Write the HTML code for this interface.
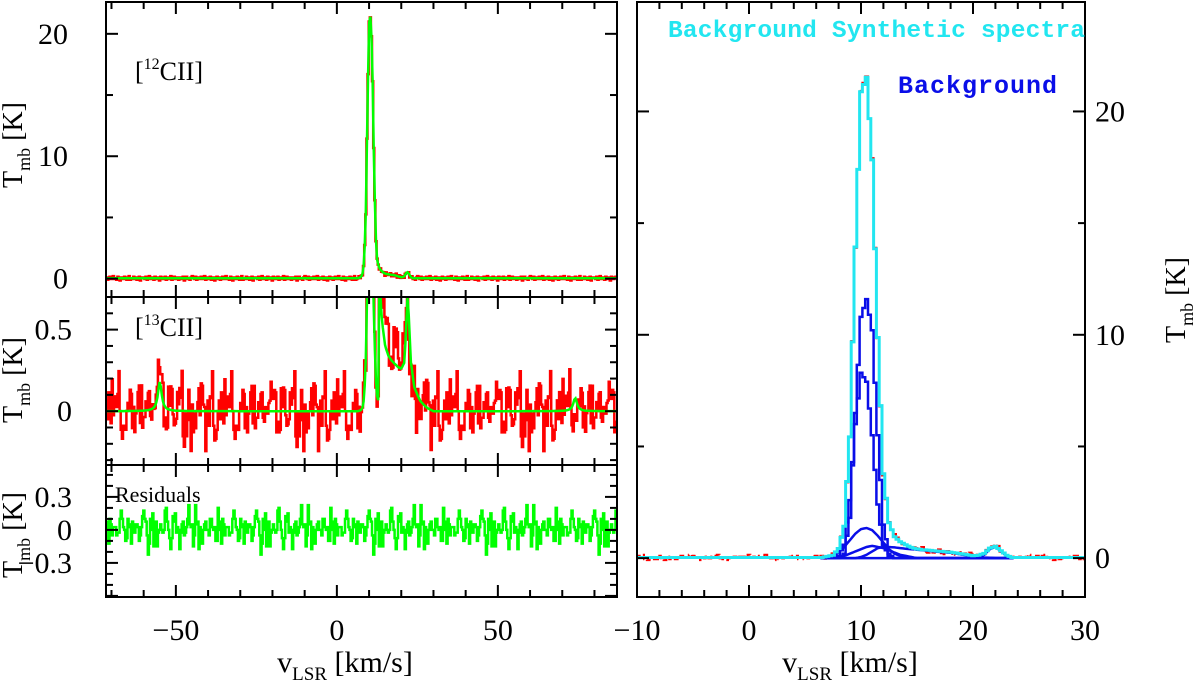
<!DOCTYPE html>
<html><head><meta charset="utf-8">
<style>
body{margin:0;background:#fff;}
svg{display:block;font-family:"Liberation Serif",serif;}
</style></head>
<body>
<svg id="c" width="1200" height="682" viewBox="0 0 1200 682"></svg>
<script>
// ---------- data ----------
const compStart = 6.5, compStep = 0.5;
const comp1 = [0,0,0,0,0.2,1.8,6.5,10.8,11.6,10.2,5.5,1.5,0.2,0,0,0,0,0,0,0,0,0,0,0,0,0,0,0,0,0,0,0,0,0,0];
const comp2 = [0,0,0,0.1,0.6,2.6,6.0,8.3,7.9,5.5,2.4,0.6,0.1,0,0,0,0,0,0,0,0,0,0,0,0,0,0,0,0,0,0,0,0,0,0];
const comp3 = [0,0.05,0.1,0.25,0.5,0.8,1.1,1.3,1.35,1.25,1.0,0.7,0.4,0.2,0.1,0.05,0,0,0,0,0,0,0,0,0,0,0,0,0,0,0,0,0,0,0];
const comp4 = [0,0,0,0.05,0.1,0.2,0.3,0.4,0.5,0.55,0.5,0.45,0.35,0.25,0.15,0.1,0.05,0,0,0,0,0,0,0,0,0,0,0,0,0,0,0,0,0,0];
const comp5 = [0,0,0,0,0,0,0,0.05,0.15,0.3,0.45,0.5,0.5,0.48,0.45,0.42,0.4,0.38,0.35,0.33,0.3,0.28,0.26,0.24,0.2,0.16,0.12,0.08,0.05,0.03,0.02,0,0,0,0];
const comp6 = [0,0,0,0,0,0,0,0,0,0,0,0,0,0,0,0,0,0,0,0,0,0,0,0,0,0,0,0,0.05,0.15,0.4,0.5,0.3,0.1,0];
const noise = [1,-2,0,2,-1,1,3,-1,0,-2,2,1,-3,0,1,-1,2,0,-2,1,3,-2,-1,0,2,-1,1,-2,0,2,-3,1,0,1,-1,2,-2,0,3,-1,1,0,-2,2,-1,0,1,-3,2,0,-1,1,2,-2,0,1,-1,3,-2,0,2,-1,0,1,-2,1,0,-1,2,-3,1,2,-1,0,-2,1,3,0,-1,2,-2,1,0,-1,2,-1,0,3,-2,1,-1,0,2,-2,1,0,-3,1,2,-1];
const c13TailStart = 13;
const c13Tail = [0.9,0.55,0.4,0.34,0.31,0.29,0.27,0.26,0.3,0.72,0.3,0.15,0.1,0.06,0.04,0.02,0.01,0];
const xTicksLeft = [-50,0,50];
const yTicksTop = [0,10,20];
const yTicksMid = [0,0.5];
const yTicksBot = [-0.3,0,0.3];
const xTicksRight = [-10,0,10,20,30];
const yTicksRight = [0,10,20];
const c13Extra = [[-55,0.18],[74,0.08]];

// ---------- helpers ----------
const svg = document.getElementById('c');
const NS = 'http://www.w3.org/2000/svg';
function mk(tag, attrs, parent){const e=document.createElementNS(NS,tag);for(const k in attrs)e.setAttribute(k,attrs[k]);(parent||svg).appendChild(e);return e;}
function lin(d0,d1,r0,r1){return v=>r0+(v-d0)*(r1-r0)/(d1-d0);}
function interp(c,start,step,v){
  const i=(v-start)/step, i0=Math.floor(i), f=i-i0;
  const a=(i0>=0&&i0<c.length)?c[i0]:0, b=(i0+1>=0&&i0+1<c.length)?c[i0+1]:0;
  return a*(1-f)+b*f;
}
function total(v){
  let s=0.03;
  for(const c of [comp1,comp2,comp3,comp4,comp5,comp6]) s+=interp(c,compStart,compStep,v);
  return s;
}
function stepPath(xs, ys, X, Y){
  let d='';
  for(let i=0;i<xs.length;i++){
    const h=(i+1<xs.length?xs[i+1]-xs[i]:xs[i]-xs[i-1])/2;
    const y=Y(ys[i]);
    d+=(i?'L':'M')+X(xs[i]-h).toFixed(1)+','+y.toFixed(1)+'L'+X(xs[i]+h).toFixed(1)+','+y.toFixed(1);
  }
  return d;
}
function linePath(xs, ys, X, Y){return xs.map((x,i)=>(i?'L':'M')+X(x).toFixed(1)+','+Y(ys[i]).toFixed(1)).join('');}
function clip(id,x,y,w,h){const cp=mk('clipPath',{id:id});mk('rect',{x:x,y:y,width:w,height:h},cp);}
function ticks(g,X,Y,x0,x1,y0,y1,xmaj,xmin,ymaj,ymin){
  for(let v=Math.ceil(x0/xmin)*xmin; v<=x1+1e-9; v+=xmin){
    const maj=Math.abs(v/xmaj-Math.round(v/xmaj))<1e-6, L=maj?12:7, px=X(v);
    mk('line',{x1:px,x2:px,y1:Y(y0),y2:Y(y0)-L,stroke:'#000','stroke-width':2},g);
    mk('line',{x1:px,x2:px,y1:Y(y1),y2:Y(y1)+L,stroke:'#000','stroke-width':2},g);
  }
  for(let v=Math.ceil(y0/ymin)*ymin; v<=y1+1e-9; v+=ymin){
    const maj=Math.abs(v/ymaj-Math.round(v/ymaj))<1e-6, L=maj?12:7, py=Y(v);
    mk('line',{x1:X(x0),x2:X(x0)+L,y1:py,y2:py,stroke:'#000','stroke-width':2},g);
    mk('line',{x1:X(x1),x2:X(x1)-L,y1:py,y2:py,stroke:'#000','stroke-width':2},g);
  }
}
function fmt(v){return v<0?'\u2212'+(-v):String(v);}

// ---------- left panels ----------
const LX = lin(-71.7,87,106,617);
const vL=[]; for(let v=-71.5; v<=87; v+=0.35) vL.push(v);

const topY = lin(-1.5,22.6,297,2);
clip('ct',106,2,511,295);
const gTop = mk('g',{});
const m12 = vL.map(v=>total(v));
const d12 = vL.map((v,i)=>m12[i]+noise[i%noise.length]*0.06);
mk('path',{d:stepPath(vL,d12,LX,topY),fill:'none',stroke:'#f00','stroke-width':2.5,'clip-path':'url(#ct)',},gTop);
mk('path',{d:linePath(vL,m12,LX,topY),fill:'none',stroke:'#0f0','stroke-width':2.5,'clip-path':'url(#ct)',},gTop);
mk('rect',{x:106,y:2,width:511,height:295,fill:'none',stroke:'#000','stroke-width':2},gTop);
ticks(gTop,LX,topY,-71.7,87,-1.5,22.6,50,10,10,5);
yTicksTop.forEach(t=>{const e=mk('text',{x:68,y:topY(t)+10,'text-anchor':'end','font-size':30},gTop);e.textContent=fmt(t);});
{const e=mk('text',{x:135,y:80,'font-size':26},gTop);e.innerHTML='[<tspan font-size="16" dy="-11">12</tspan><tspan dy="11">CII]</tspan>';}

const midY = lin(-0.33,0.70,465,297);
clip('cm',106,297,511,168);
const gMid = mk('g',{});
const m13 = vL.map(v=>{let s=v<c13TailStart?(total(v)-0.03)*0.06:interp(c13Tail,c13TailStart,1,v); c13Extra.forEach(([c,a])=>{s+=a/(1+((v-c)/0.7)**2);}); return s;});
const d13 = vL.map((v,i)=>m13[i]+(v>14&&v<21?0.08:0)+noise[(i*3+5)%noise.length]*0.065+(noise[(i*7+2)%noise.length])*0.025);
mk('path',{d:stepPath(vL,d13,LX,midY),fill:'none',stroke:'#f00','stroke-width':2.5,'clip-path':'url(#cm)',},gMid);
mk('path',{d:linePath(vL,m13,LX,midY),fill:'none',stroke:'#0f0','stroke-width':2.5,'clip-path':'url(#cm)',},gMid);
mk('rect',{x:106,y:297,width:511,height:168,fill:'none',stroke:'#000','stroke-width':2},gMid);
ticks(gMid,LX,midY,-71.7,87,-0.33,0.70,50,10,0.5,0.1);
yTicksMid.forEach(t=>{const e=mk('text',{x:72,y:midY(t)+10,'text-anchor':'end','font-size':30},gMid);e.textContent=fmt(t);});
{const e=mk('text',{x:135,y:336,'font-size':26},gMid);e.innerHTML='[<tspan font-size="16" dy="-11">13</tspan><tspan dy="11">CII]</tspan>';}

const botY = lin(-0.61,0.59,597,465);
clip('cb',106,465,511,132);
const gBot = mk('g',{});
const dres = vL.map((v,i)=>noise[(i*5+11)%noise.length]*0.05+noise[(i*3+1)%noise.length]*0.025);
mk('path',{d:stepPath(vL,dres,LX,botY),fill:'none',stroke:'#0f0','stroke-width':2.5,'clip-path':'url(#cb)',},gBot);
mk('rect',{x:106,y:465,width:511,height:132,fill:'none',stroke:'#000','stroke-width':2},gBot);
ticks(gBot,LX,botY,-71.7,87,-0.61,0.59,50,10,0.3,0.1);
yTicksBot.forEach(t=>{const e=mk('text',{x:72,y:botY(t)+10,'text-anchor':'end','font-size':30},gBot);e.textContent=fmt(t);});
{const e=mk('text',{x:115,y:502,'font-size':22},gBot);e.textContent='Residuals';}

xTicksLeft.forEach(t=>{const e=mk('text',{x:LX(t),y:640,'text-anchor':'middle','font-size':30});e.textContent=fmt(t);});
{const e=mk('text',{x:345,y:672,'text-anchor':'middle','font-size':30});e.innerHTML='v<tspan font-size="19" dy="8">LSR</tspan><tspan dy="-8"> [km/s]</tspan>';}
[[145,'top'],[380,'mid'],[535,'bot']].forEach(([y,n])=>{const e=mk('text',{x:0,y:0,'text-anchor':'middle','font-size':28,transform:'translate(22,'+y+') rotate(-90)'});e.innerHTML='T<tspan font-size="18" dy="8">mb</tspan><tspan dy="-8"> [K]</tspan>';});

// ---------- right panel ----------
const RX = lin(-10,30,637,1085);
const RY = lin(-1.74,24.9,597,2);
clip('cr',637,2,448,595);
const gR = mk('g',{});
const vR=[]; for(let v=-10; v<=30; v+=0.25) vR.push(v);
const tR = vR.map(v=>total(v));
const dR = vR.map((v,i)=>tR[i]+noise[(i*3)%noise.length]*0.04);
mk('path',{d:stepPath(vR,dR,RX,RY),fill:'none',stroke:'#f00','stroke-width':2,'stroke-dasharray':'6 3','clip-path':'url(#cr)',},gR);
[comp1,comp2,comp3,comp4,comp5,comp6].forEach((c,k)=>{
  const xs=[]; for(let v=compStart; v<=compStart+(c.length-1)*compStep; v+=0.25) xs.push(v);
  const ys=xs.map(v=>interp(c,compStart,compStep,v));
  const p=mk('path',{d:k<2?stepPath(xs,ys,RX,RY):linePath(xs,ys,RX,RY),fill:'none',stroke:'#0a0ee8','stroke-width':2.5,'clip-path':'url(#cr)'},gR);
  
  
});
mk('path',{d:stepPath(vR,tR,RX,RY),fill:'none',stroke:'#22e6f0','stroke-width':3,'clip-path':'url(#cr)',},gR);
mk('rect',{x:637,y:2,width:448,height:595,fill:'none',stroke:'#000','stroke-width':2},gR);
ticks(gR,RX,RY,-10,30,-1.74,24.9,10,2,10,5);
xTicksRight.forEach(t=>{const e=mk('text',{x:RX(t),y:640,'text-anchor':'middle','font-size':30},gR);e.textContent=fmt(t);});
yTicksRight.forEach(t=>{const e=mk('text',{x:1095,y:RY(t)+10,'font-size':30},gR);e.textContent=fmt(t);});
{const e=mk('text',{x:850,y:672,'text-anchor':'middle','font-size':30});e.innerHTML='v<tspan font-size="19" dy="8">LSR</tspan><tspan dy="-8"> [km/s]</tspan>';}
{const e=mk('text',{x:0,y:0,'text-anchor':'middle','font-size':28,transform:'translate(1185,300) rotate(-90)'});e.innerHTML='T<tspan font-size="18" dy="8">mb</tspan><tspan dy="-8"> [K]</tspan>';}
{const e=mk('text',{x:668,y:37,'font-size':24.5,'font-weight':'bold',fill:'#22e6f0','font-family':'Liberation Mono, monospace',textLength:417});e.textContent='Background Synthetic spectra';}
{const e=mk('text',{x:898,y:93,'font-size':25,'font-weight':'bold',fill:'#0a0ee8','font-family':'Liberation Mono, monospace',textLength:159});e.textContent='Background';}
</script>
</body></html>
